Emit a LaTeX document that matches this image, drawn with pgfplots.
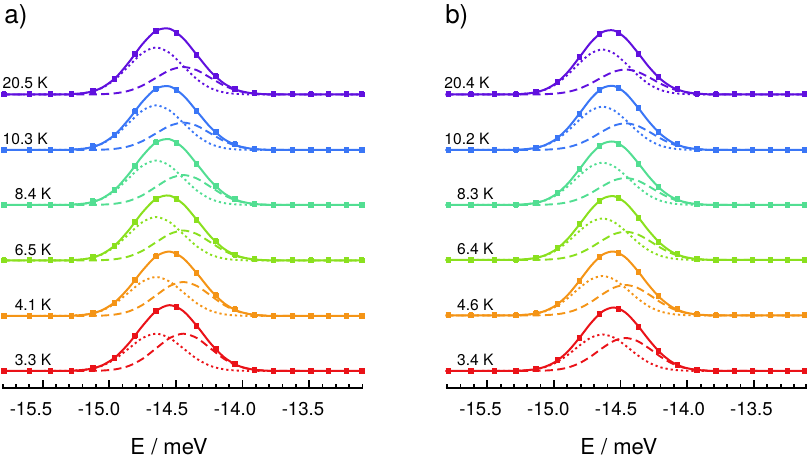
\documentclass[border=0pt]{standalone}
\usepackage{fontspec}
\setmainfont{TeX Gyre Heros}
\usepackage{pgfplots}
\usepackage{pgfplotstable}
\pgfplotsset{compat=1.18}
\definecolor{cR}{RGB}{234,18,24}
\definecolor{cO}{RGB}{244,148,22}
\definecolor{cG}{RGB}{138,224,30}
\definecolor{cM}{RGB}{82,222,146}
\definecolor{cB}{RGB}{58,118,246}
\definecolor{cP}{RGB}{96,16,222}

\pgfplotstableread{
x rT rD rS oT oD oS gT gD gS mT mD mS bT bD bS pT pD pS
-15.713 17 17 17 72 72 72 127.5 127.5 127.5 183 183 183 238 238 238 293.5 293.5 293.5
-15.28 17.08 17.08 17 72.09 72.09 72 127.6 127.6 127.5 183.1 183.1 183 238.1 238.1 238 293.6 293.6 293.5
-15.18 17.42 17.41 17.01 72.44 72.43 72.01 127.99 127.98 127.51 183.5 183.49 183.01 238.51 238.5 238.01 294.03 294.02 293.51
-15.08 18.72 18.64 17.08 73.78 73.71 72.07 129.48 129.41 127.57 185.02 184.95 183.07 240.02 239.96 238.06 295.62 295.56 293.56
-14.98 22.46 22.05 17.41 77.66 77.28 72.38 133.72 133.39 127.83 189.35 189.02 183.33 244.35 244.05 238.3 300.17 299.86 293.81
-14.88 30.75 29.11 18.64 86.15 84.66 73.49 142.94 141.62 128.82 198.77 197.45 184.32 253.71 252.51 239.2 309.97 308.76 294.71
-14.78 44.67 39.62 22.05 100.25 95.65 76.6 157.94 153.88 131.56 214.05 209.99 187.06 268.82 265.11 241.71 325.73 322.01 297.22
-14.68 62.03 49.92 29.11 117.46 106.42 83.04 175.63 165.89 137.24 232.01 222.27 192.74 286.35 277.45 246.9 343.91 334.98 302.43
-14.58 76.92 54.3 39.62 131.62 111 92.62 189.2 171 145.7 245.7 227.5 201.2 299.32 282.7 254.62 357.18 340.5 310.18
-14.48 82.84 49.92 49.92 136.43 106.42 102.01 192.37 165.89 153.98 248.75 222.27 209.48 301.63 277.45 262.18 359.25 334.98 317.77
-14.38 76.92 39.62 54.3 129.65 95.65 106 183.88 153.88 157.5 239.99 209.99 213 292.51 265.11 265.4 349.51 322.01 321
-14.28 62.03 29.11 49.92 114.67 84.66 102.01 168.1 141.62 153.98 223.93 197.45 209.48 276.69 252.51 262.18 333.03 308.76 317.77
-14.18 44.67 22.05 39.62 97.9 77.28 92.62 151.59 133.39 145.7 207.22 189.02 201.2 260.67 244.05 254.62 316.54 299.86 310.18
-14.08 30.75 18.64 29.11 84.75 73.71 83.04 139.15 129.41 137.24 194.69 184.95 192.74 248.86 239.96 246.9 304.49 295.56 302.43
-13.98 22.46 17.41 22.05 77.03 72.43 76.6 132.04 127.98 131.56 187.55 183.49 187.06 242.21 238.5 241.71 297.74 294.02 297.22
-13.88 18.72 17.08 18.64 73.58 72.09 73.49 128.92 127.6 128.82 184.42 183.1 184.32 239.3 238.1 239.2 294.81 293.6 294.71
-13.78 17.42 17.01 17.41 72.39 72.01 72.38 127.84 127.51 127.83 183.34 183.01 183.33 238.31 238.01 238.3 293.82 293.51 293.81
-13.68 17.08 17 17.08 72.07 72 72.07 127.57 127.5 127.57 183.07 183 183.07 238.06 238 238.06 293.56 293.5 293.56
-13.056 17 17 17 72 72 72 127.5 127.5 127.5 183 183 183 238 238 238 293.5 293.5 293.5
}\fitA

\pgfplotstableread{
x r o g m b p
-15.699 17 72 127.5 183 238 293.5
-15.513 17 72 127.5 183 238 293.5
-15.355 17.02 72.02 127.52 183.02 238.02 293.52
-15.201 17.35 72.37 127.91 183.42 238.42 293.94
-15.046 19.99 75.1 130.92 186.49 241.49 297.17
-14.888 30.09 85.47 142.2 198.02 252.96 309.19
-14.735 52.48 107.99 165.9 222.13 276.71 333.91
-14.581 76.92 131.62 189.2 245.7 299.32 357.18
-14.429 81 134 189 245.3 298 355.3
-14.282 62.33 114.97 168.42 224.25 277.01 333.36
-14.14 39.1 92.64 146.61 202.21 255.95 311.72
-14.0 24.12 78.57 133.46 188.98 243.54 299.09
-13.858 18.43 73.32 128.68 184.18 239.08 294.59
-13.718 17.21 72.19 127.67 183.17 238.16 293.66
-13.579 17 72 127.5 183 238 293.5
-13.441 17 72 127.5 183 238 293.5
-13.314 17 72 127.5 183 238 293.5
-13.179 17 72 127.5 183 238 293.5
-13.068 17 72 127.5 183 238 293.5
}\datA

\pgfplotstableread{
x rT rD rS oT oD oS gT gD gS mT mD mS bT bD bS pT pD pS
-15.758 17 17 17 72.5 72.5 72.5 128 128 128 183 183 183 238 238 238 293.5 293.5 293.5
-15.28 17.11 17.11 17 72.62 72.62 72.5 128.13 128.13 128 183.13 183.13 183 238.13 238.13 238 293.64 293.64 293.5
-15.195 17.46 17.44 17.02 72.99 72.97 72.52 128.52 128.5 128.02 183.53 183.51 183.02 238.54 238.52 238.02 294.06 294.04 293.52
-15.11 18.51 18.41 17.1 74.12 74.03 72.59 129.7 129.61 128.09 184.72 184.64 183.08 239.76 239.68 238.08 295.32 295.24 293.58
-15.025 21.22 20.82 17.4 77.0 76.63 72.87 132.68 132.34 128.34 187.74 187.42 183.32 242.85 242.53 238.32 298.51 298.21 293.8
-14.94 26.88 25.6 18.28 82.99 81.81 73.68 138.88 137.78 129.1 194.01 192.97 184.04 249.24 248.21 239.03 305.08 304.11 294.47
-14.855 36.64 33.19 20.45 93.21 90.02 75.69 149.37 146.41 130.96 204.58 201.76 185.82 260.0 257.21 240.79 316.08 313.46 296.12
-14.77 50.21 42.43 24.78 107.21 100.02 79.69 163.59 156.92 134.67 218.83 212.47 189.36 274.46 268.17 244.29 330.75 324.86 299.39
-14.685 64.99 50.35 31.64 122.12 108.59 86.03 178.47 165.92 140.55 233.63 221.65 194.98 289.4 277.56 249.84 345.71 334.62 304.59
-14.60 76.49 53.5 39.99 133.25 112 93.75 189.22 169.5 147.72 244.11 225.3 201.81 299.9 281.3 256.6 355.92 338.5 310.92
-14.515 80.5 50.35 47.15 136.46 108.59 100.37 191.78 165.92 153.86 246.32 221.65 207.67 301.96 277.56 262.4 357.46 334.62 316.34
-14.43 75.43 42.43 50 130.52 100.02 103 185.22 156.92 156.3 239.47 212.47 210 294.87 268.17 264.7 349.86 324.86 318.5
-14.345 63.34 33.19 47.15 117.89 90.02 100.37 172.27 146.41 153.86 226.43 201.76 207.67 281.61 257.21 262.4 336.3 313.46 316.34
-14.26 48.59 25.6 39.99 103.06 81.81 93.75 157.5 137.78 147.72 211.78 192.97 201.81 266.81 248.21 256.6 321.53 304.11 310.92
-14.175 35.46 20.82 31.64 90.16 76.63 86.03 144.89 132.34 140.55 199.4 187.42 194.98 254.37 242.53 249.84 309.3 298.21 304.59
-14.09 26.19 18.41 24.78 81.22 74.03 79.69 136.28 129.61 134.67 191.0 184.64 189.36 245.97 239.68 244.29 301.13 295.24 299.39
-14.005 20.89 17.44 20.45 76.16 72.97 75.69 131.46 128.5 130.96 186.33 183.51 185.82 241.31 238.52 240.79 296.66 294.04 296.12
-13.92 18.39 17.11 18.28 73.8 72.62 73.68 129.23 128.13 129.1 184.17 183.13 184.04 239.16 238.13 239.03 294.61 293.64 294.47
-13.835 17.43 17.03 17.4 72.9 72.53 72.87 128.37 128.03 128.34 183.35 183.03 183.32 238.35 238.03 238.32 293.83 293.53 293.8
-13.75 17.1 17 17.1 72.59 72.5 72.59 128.09 128 128.09 183.08 183 183.08 238.08 238 238.08 293.58 293.5 293.58
-13.09 17 17 17 72.5 72.5 72.5 128 128 128 183 183 183 238 238 238 293.5 293.5 293.5
}\fitB

\pgfplotstableread{
x r o g m b p
-15.74 17 72.5 128 183 238 293.5
-15.571 17 72.5 128 183 238 293.5
-15.399 17 72.5 128 183 238 293.5
-15.239 17.28 72.8 128.32 183.32 238.33 293.84
-15.091 19.11 74.75 130.36 185.38 240.44 296.02
-14.931 27.95 84.11 140.03 195.17 250.42 306.29
-14.771 50.21 107.21 163.59 218.83 274.46 330.75
-14.623 74 130.7 186.8 241.8 297.6 353.7
-14.481 79.3 134.9 190 244.4 300 355.3
-14.333 61.28 115.81 170.2 224.38 279.54 334.23
-14.185 37.04 91.71 146.4 200.89 255.86 310.77
-14.045 23.38 78.54 133.73 188.52 243.5 298.76
-13.902 18.19 73.61 129.05 184 238.99 294.45
-13.761 17.1 72.59 128.09 183.08 238.08 293.58
-13.626 17 72.5 128 183 238 293.5
-13.491 17 72.5 128 183 238 293.5
-13.36 17 72.5 128 183 238 293.5
-13.233 17 72.5 128 183 238 293.5
-13.11 17 72.5 128 183 238 293.5
}\datB

\pgfplotsset{
  fsol/.style={smooth, line width=1pt},
  fdot/.style={smooth, line width=0.95pt, dash pattern=on 1.1pt off 1.5pt},
  fdash/.style={smooth, line width=0.95pt, dash pattern=on 4pt off 2.2pt},
  pts/.style={only marks, mark=square*, mark size=1.1pt,
    error bars/y dir=both, error bars/y fixed=2.4,
    error bars/error mark=|,
    error bars/error bar style={line width=0.6pt},
    error bars/error mark options={mark size=1.2pt, line width=0.6pt}},
  panel/.style={
    anchor=south west, y=0.5pt, ymin=0, ymax=385,
    axis x line*=bottom, axis y line=none, clip=false,
    xtick={-15.5,-15,-14.5,-14,-13.5},
    xticklabels={-15.5,-15.0,-14.5,-14.0,-13.5},
    xtick align=inside,
    major tick length=0pt, minor tick length=2.2pt,
    extra x tick labels={},
    extra x tick style={major tick length=3.8pt},
    every tick/.style={black, line width=0.85pt},
    axis line style={black, line width=1pt},
    xticklabel style={font=\fontsize{9.3}{11}\selectfont, anchor=base, yshift=-14pt},
  },
}
\tikzset{tlab/.style={anchor=base east, inner sep=0pt, font=\fontsize{7.8}{9.4}\selectfont}}

\begin{document}
\begin{tikzpicture}
\path[use as bounding box] (0,0) rectangle (405pt,229pt);
% ---------------- panel a
\begin{axis}[panel, at={(1pt,35pt)}, x=68pt, xmin=-15.713, xmax=-13.056,
  extra x ticks={-15.414,-14.924,-14.434,-13.944,-13.454},
  minor xtick={-15.708,-15.61,-15.512,-15.316,-15.218,-15.12,-15.022,-14.826,-14.728,-14.63,-14.532,-14.336,-14.238,-14.14,-14.042,-13.846,-13.748,-13.65,-13.552,-13.356,-13.258,-13.16,-13.062}]
\foreach \c/\k in {cR/r,cO/o,cG/g,cM/m,cB/b,cP/p}{
  \edef\tmp{
  \noexpand\addplot[fdot, \c] table[x=x,y=\k D]{\noexpand\fitA};
  \noexpand\addplot[fdash, \c] table[x=x,y=\k S]{\noexpand\fitA};
  \noexpand\addplot[fsol, \c] table[x=x,y=\k T]{\noexpand\fitA};
  \noexpand\addplot[pts, \c] table[x=x,y=\k]{\noexpand\datA};
  }\tmp
}
\node[tlab] at (axis cs:-15.348,22) {3.3 K};
\node[tlab] at (axis cs:-15.348,77) {4.1 K};
\node[tlab] at (axis cs:-15.348,132.5) {6.5 K};
\node[tlab] at (axis cs:-15.348,188) {8.4 K};
\node[tlab] at (axis cs:-15.373,243.5) {10.3 K};
\node[tlab] at (axis cs:-15.373,299) {20.5 K};
\node[anchor=base west, inner sep=0pt, font=\fontsize{13}{15}\selectfont] at (axis cs:-15.699,364.5) {a)};
\node[anchor=base, font=\fontsize{11}{13}\selectfont] at (axis cs:-14.485,0) [yshift=-33.5pt] {E / meV};
\end{axis}
% ---------------- panel b
\begin{axis}[panel, at={(222.85pt,35pt)}, x=67.7pt, xmin=-15.758, xmax=-13.09,
  extra x ticks={-15.451,-14.9585,-14.466,-13.9735,-13.481},
  minor xtick={-15.746,-15.648,-15.549,-15.352,-15.254,-15.155,-15.057,-14.86,-14.761,-14.663,-14.564,-14.368,-14.269,-14.171,-14.072,-13.875,-13.777,-13.678,-13.58,-13.383,-13.284,-13.186,-13.095}]
\foreach \c/\k in {cR/r,cO/o,cG/g,cM/m,cB/b,cP/p}{
  \edef\tmp{
  \noexpand\addplot[fdot, \c] table[x=x,y=\k D]{\noexpand\fitB};
  \noexpand\addplot[fdash, \c] table[x=x,y=\k S]{\noexpand\fitB};
  \noexpand\addplot[fsol, \c] table[x=x,y=\k T]{\noexpand\fitB};
  \noexpand\addplot[pts, \c] table[x=x,y=\k]{\noexpand\datB};
  }\tmp
}
\node[tlab] at (axis cs:-15.402,22) {3.4 K};
\node[tlab] at (axis cs:-15.402,77) {4.6 K};
\node[tlab] at (axis cs:-15.402,133) {6.4 K};
\node[tlab] at (axis cs:-15.402,188) {8.3 K};
\node[tlab] at (axis cs:-15.431,243.5) {10.2 K};
\node[tlab] at (axis cs:-15.431,299) {20.4 K};
\node[anchor=base west, inner sep=0pt, font=\fontsize{13}{15}\selectfont] at (axis cs:-15.764,364.5) {b)};
\node[anchor=base, font=\fontsize{11}{13}\selectfont] at (axis cs:-14.479,0) [yshift=-33.5pt] {E / meV};
\end{axis}
\end{tikzpicture}
\end{document}
